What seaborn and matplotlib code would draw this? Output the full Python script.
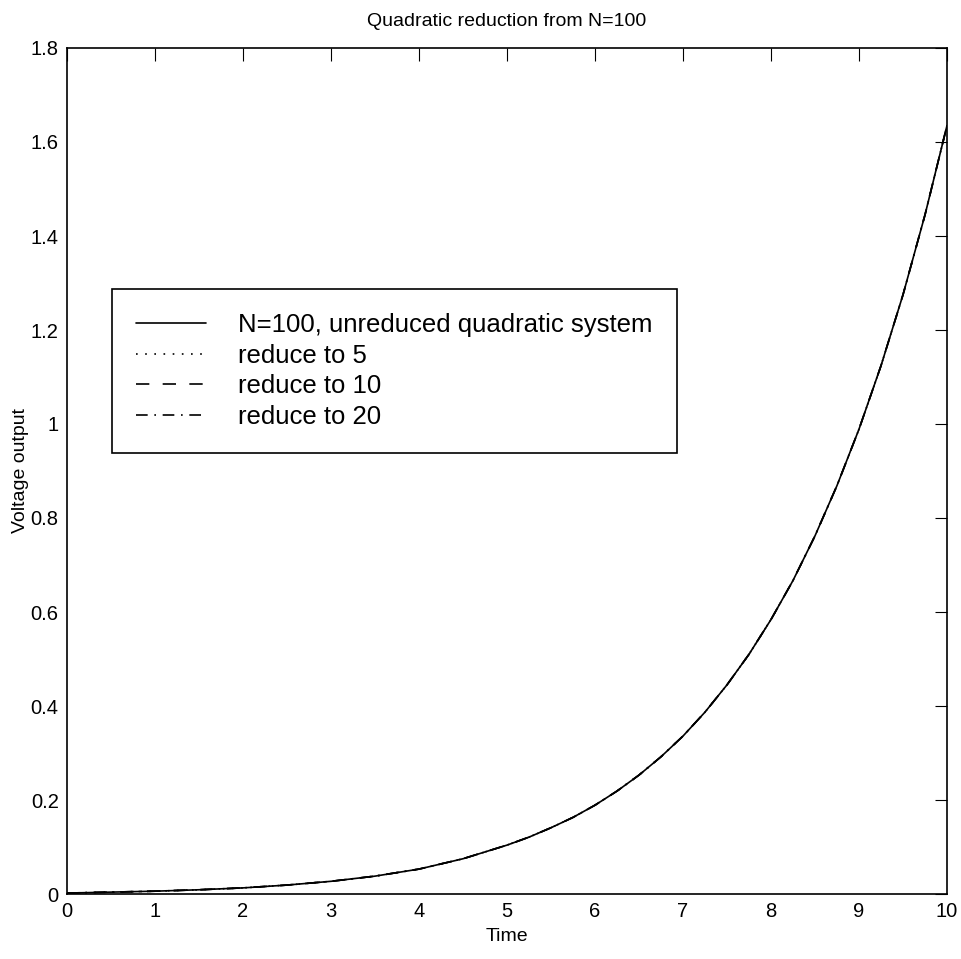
import matplotlib
matplotlib.use("Agg")
import matplotlib.pyplot as plt
import seaborn as sns

time = [0, 0.5, 1, 1.5, 2, 2.5, 3, 3.5, 4, 4.5, 5, 5.25, 5.5, 5.75, 6, 6.25, 6.5, 6.75,
        7, 7.25, 7.5, 7.75, 8, 8.25, 8.5, 8.75, 9, 9.25, 9.5, 9.75, 10]
unreduced = [0.002, 0.004, 0.006, 0.009, 0.013, 0.019, 0.027, 0.038, 0.053, 0.075, 0.104,
             0.121, 0.141, 0.163, 0.189, 0.219, 0.253, 0.292, 0.336, 0.387, 0.445, 0.510,
             0.584, 0.667, 0.762, 0.869, 0.989, 1.124, 1.275, 1.445, 1.635]
reduce5 = [0.002, 0.004, 0.006, 0.009, 0.013, 0.019, 0.027, 0.038, 0.053, 0.075, 0.104,
           0.121, 0.141, 0.163, 0.189, 0.219, 0.253, 0.292, 0.336, 0.387, 0.445, 0.510,
           0.584, 0.667, 0.762, 0.869, 0.989, 1.124, 1.275, 1.445, 1.635]
reduce10 = [0.002, 0.004, 0.006, 0.009, 0.013, 0.019, 0.027, 0.038, 0.053, 0.075, 0.104,
            0.121, 0.141, 0.163, 0.189, 0.219, 0.253, 0.292, 0.336, 0.387, 0.445, 0.510,
            0.584, 0.667, 0.762, 0.869, 0.989, 1.124, 1.275, 1.445, 1.635]
reduce20 = [0.002, 0.004, 0.006, 0.009, 0.013, 0.019, 0.027, 0.038, 0.053, 0.075, 0.104,
            0.121, 0.141, 0.163, 0.189, 0.219, 0.253, 0.292, 0.336, 0.387, 0.445, 0.510,
            0.584, 0.667, 0.762, 0.869, 0.989, 1.124, 1.275, 1.445, 1.635]
labels = ["N=100, unreduced quadratic system", "reduce to 5", "reduce to 10", "reduce to 20"]
styles = ["-", (0, (1, 4.5)), (0, (8, 8)), (0, (7, 4, 1, 4))]
xticks = [0, 1, 2, 3, 4, 5, 6, 7, 8, 9, 10]
yticks = [0, 0.2, 0.4, 0.6, 0.8, 1.0, 1.2, 1.4, 1.6, 1.8]
yticklabels = ["0", "0.2", "0.4", "0.6", "0.8", "1", "1.2", "1.4", "1.6", "1.8"]

sns.set_style("white")
plt.rcParams["font.family"] = ["Liberation Sans", "DejaVu Sans"]
plt.rcParams["text.color"] = "black"
plt.rcParams["axes.labelcolor"] = "black"

fig = plt.figure(figsize=(9.62, 9.59), dpi=100)
ax = fig.add_axes([67/962, 1 - 894/959, 880/962, 846/959])

for vals, lab, ls in zip([unreduced, reduce5, reduce10, reduce20], labels, styles):
    sns.lineplot(x=time, y=vals, ax=ax, color="black", linestyle=ls, linewidth=1.2, label=lab)

ax.set_xlim(0, 10)
ax.set_ylim(0, 1.8)
ax.set_xticks(xticks)
ax.set_yticks(yticks)
ax.set_yticklabels(yticklabels)
ax.tick_params(direction="in", length=9, width=0.8, top=True, right=True,
               labelsize=14.5, colors="black", labelcolor="black", pad=6)
for s in ax.spines.values():
    s.set_visible(True)
    s.set_color("black")
    s.set_linewidth(1.2)

ax.set_title("Quadratic reduction from N=100", fontsize=14, pad=16, color="black")
ax.set_xlabel("Time", fontsize=14, labelpad=5)
ax.set_ylabel("Voltage output", fontsize=14, labelpad=1)

leg = ax.legend(loc="upper left", bbox_to_anchor=(112/962, 1 - 289/959),
                bbox_transform=fig.transFigure, borderaxespad=0, fontsize=18.5,
                frameon=True, fancybox=False, shadow=False, framealpha=1,
                handlelength=2.7, handletextpad=1.25, borderpad=0.95, labelspacing=0.25)
leg.get_frame().set_edgecolor("black")
leg.get_frame().set_linewidth(1.2)
for t in leg.get_texts():
    t.set_color("black")

fig.savefig("out.png", dpi=100, facecolor="white")
